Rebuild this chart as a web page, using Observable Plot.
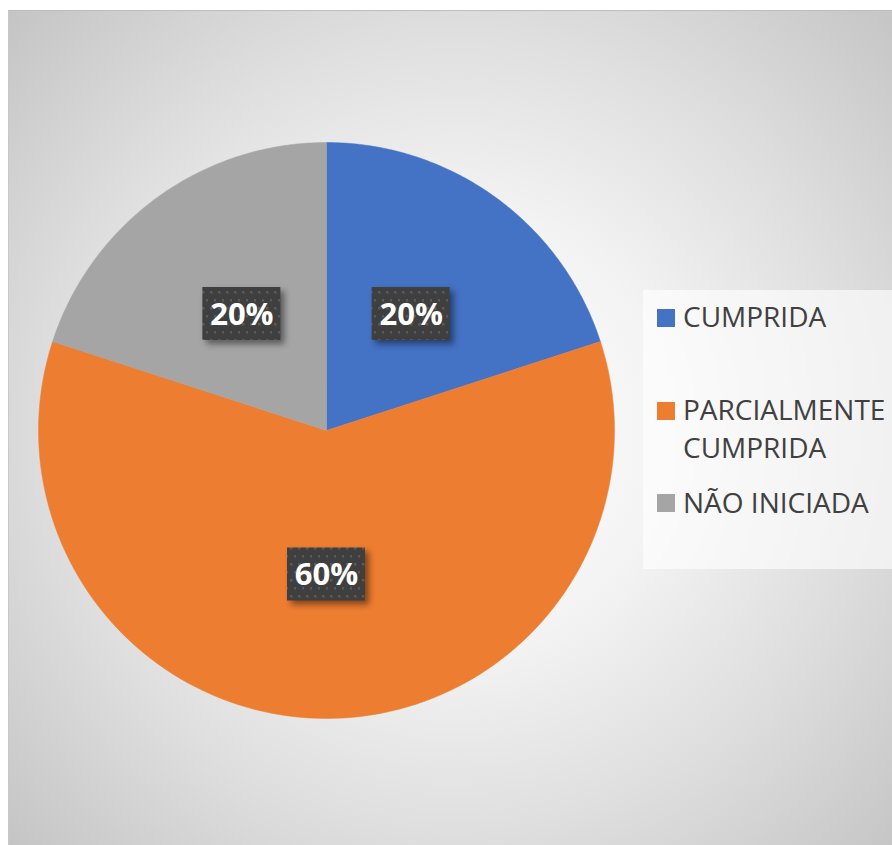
<!DOCTYPE html>
<html>
<head>
<meta charset="utf-8">
<script src="https://cdn.jsdelivr.net/npm/d3@7"></script>
<script src="https://cdn.jsdelivr.net/npm/@observablehq/plot@0.6"></script>
<style>
  html, body { margin: 0; padding: 0; width: 892px; height: 845px; overflow: hidden; background: #fff; }
  #bg { position: absolute; left: 8px; top: 10px; width: 900px; height: 850px;
        border-top: 1px solid #bdbdbd; border-left: 1px solid #c8c8c8;
        background: radial-gradient(circle farthest-corner at 447px 420px, #ffffff 0%, #f3f3f3 35%, #dedede 65%, #c3c3c3 100%); }
  #chart { position: absolute; left: 0; top: 0; }
  #legend { position: absolute; left: 643px; top: 290px; width: 260px; height: 279px;
            background: rgba(255,255,255,0.62); }
  .item { position: absolute; font-family: "Open Sans", sans-serif; font-size: 28px; line-height: 38px; color: #404040; white-space: nowrap; }
  .sw { position: absolute; width: 18px; height: 18px; }
</style>
</head>
<body>
<div id="bg"></div>
<div id="chart"></div>
<div id="legend"></div>
<script>
const categories = ["CUMPRIDA", "PARCIALMENTE CUMPRIDA", "NÃO INICIADA"];
const values = [20, 60, 20];
const sliceColors = ["#4472C4", "#ED7D31", "#A5A5A5"];
const valueLabels = ["20%", "60%", "20%"];
const legendLines = [["CUMPRIDA"], ["PARCIALMENTE", "CUMPRIDA"], ["NÃO INICIADA"]];

const arcs = d3.pie().sort(null).value(d => d)(values);

// slice polygons in unit-circle coordinates (y up, angle clockwise from 12 o'clock)
const poly = [];
arcs.forEach((a, i) => {
  const cat = categories[i];
  poly.push({cat, x: 0, y: 0});
  const n = 120;
  for (let k = 0; k <= n; k++) {
    const t = a.startAngle + (a.endAngle - a.startAngle) * k / n;
    poly.push({cat, x: Math.sin(t), y: Math.cos(t)});
  }
  poly.push({cat, x: 0, y: 0});
});

const labelData = arcs.map((a, i) => {
  const m = (a.startAngle + a.endAngle) / 2;
  return {cat: categories[i], label: valueLabels[i], x: 0.5 * Math.sin(m), y: 0.5 * Math.cos(m)};
});

const bw = 0.1354, bh = 0.092;

const plot = Plot.plot({
  width: 892,
  height: 845,
  marginLeft: 38,
  marginRight: 278,
  marginTop: 142,
  marginBottom: 127,
  style: {background: "transparent", overflow: "visible"},
  x: {domain: [-1, 1], axis: null},
  y: {domain: [-1, 1], axis: null},
  color: {domain: categories, range: sliceColors},
  marks: [
    Plot.line(poly, {x: "x", y: "y", z: "cat", fill: "cat", stroke: "cat", strokeWidth: 0.5, curve: "linear"}),
    Plot.rect(labelData, {
      x1: d => d.x - bw, x2: d => d.x + bw,
      y1: d => d.y - bh, y2: d => d.y + bh,
      fill: "url(#dots)"
    }),
    Plot.text(labelData, {
      x: "x", y: "y", text: "label",
      fill: "white", fontSize: 31, fontWeight: "bold",
      fontFamily: "Open Sans, sans-serif", dy: 1
    })
  ]
});

const svg = d3.select(plot);
const defs = svg.insert("defs", ":first-child");
const pat = defs.append("pattern").attr("id", "dots").attr("patternUnits", "userSpaceOnUse")
  .attr("width", 8).attr("height", 16);
pat.append("rect").attr("width", 8).attr("height", 16).attr("fill", "#3f3f3f");
pat.append("rect").attr("x", 2).attr("y", 3).attr("width", 2.5).attr("height", 2.5).attr("fill", "#5a5a5a");
pat.append("rect").attr("x", 6).attr("y", 11).attr("width", 2.5).attr("height", 2.5).attr("fill", "#5a5a5a");
svg.selectAll("g[aria-label=rect] rect").style("filter", "drop-shadow(4px 4px 3px rgba(0,0,0,0.45))");

document.getElementById("chart").appendChild(plot);

// legend
const legend = document.getElementById("legend");
const tops = [7, 100, 193];      // relative to legend box
const swTops = [19, 112, 204];
categories.forEach((c, i) => {
  const sw = document.createElement("div");
  sw.className = "sw";
  sw.style.left = "14px";
  sw.style.top = swTops[i] + "px";
  sw.style.background = sliceColors[i];
  legend.appendChild(sw);
  legendLines[i].forEach((line, j) => {
    const t = document.createElement("div");
    t.className = "item";
    t.style.left = "40px";
    t.style.top = (tops[i] + j * 38) + "px";
    t.textContent = line;
    legend.appendChild(t);
  });
});
</script>
</body>
</html>
